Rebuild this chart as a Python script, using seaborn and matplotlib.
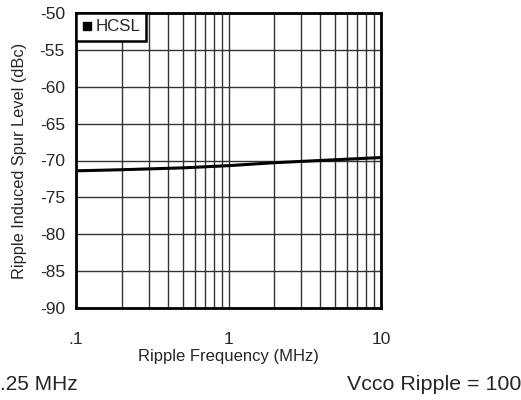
import matplotlib
matplotlib.use("Agg")
import matplotlib.pyplot as plt
import seaborn as sns
import pandas as pd
from matplotlib.ticker import FixedLocator, FixedFormatter, LogLocator, NullFormatter
from matplotlib.lines import Line2D

freq_mhz = [0.1, 0.2, 0.5, 1, 2, 5, 10]
spur_dbc = [-71.4, -71.25, -71.0, -70.7, -70.3, -69.9, -69.6]
series_name = "HCSL"
x_ticks = [0.1, 1, 10]
x_tick_labels = [".1", "1", "10"]
y_ticks = [-90, -85, -80, -75, -70, -65, -60, -55, -50]

sns.set_theme(style="white")
plt.rcParams['font.family'] = ['Liberation Sans', 'DejaVu Sans']

df = pd.DataFrame({"f": freq_mhz, "s": spur_dbc, "series": series_name})

fig = plt.figure(figsize=(5.21, 4.0), dpi=100)
ax = fig.add_axes([76/521, 1-308/400, (381-76)/521, (308-13)/400])

sns.lineplot(data=df, x="f", y="s", hue="series", palette=["black"], linewidth=2.2, ax=ax, legend=False, zorder=5)

ax.set_xscale("log")
ax.set_xlim(0.1, 10)
ax.set_ylim(-90, -50)
ax.xaxis.set_major_locator(FixedLocator(x_ticks))
ax.xaxis.set_major_formatter(FixedFormatter(x_tick_labels))
ax.xaxis.set_minor_locator(LogLocator(base=10, subs=range(2, 10)))
ax.xaxis.set_minor_formatter(NullFormatter())
ax.set_yticks(y_ticks)
ax.set_yticklabels([str(v) for v in y_ticks])

ax.grid(True, which="both", axis="x", color="#333333", linewidth=1.0)
ax.grid(True, which="major", axis="y", color="#333333", linewidth=1.0)
ax.tick_params(axis="both", which="both", length=0)
ax.tick_params(axis="x", pad=17, labelsize=12.5)
ax.tick_params(axis="y", pad=8, labelsize=12.5)
for sp in ax.spines.values():
    sp.set_color("black")
    sp.set_linewidth(2.0)

ax.set_xlabel("Ripple Frequency (MHz)", fontsize=12, labelpad=2)
ax.set_ylabel("Ripple Induced Spur Level (dBc)", fontsize=11.8, labelpad=9)

h = [Line2D([], [], marker="s", color="black", linestyle="none", markersize=5.5)]
leg = ax.legend(h, [series_name], loc="upper left", borderaxespad=0, fancybox=False,
                frameon=True, fontsize=12.2, handlelength=0.5, handletextpad=0.25,
                borderpad=0.38, framealpha=1)
leg.get_frame().set_edgecolor("black")
leg.get_frame().set_linewidth(1.8)
leg.set_zorder(10)

fig.text(0.0, 1-385/400, ".25 MHz", fontsize=15, ha="left", va="center")
fig.text(1.0, 1-385/400, "Vcco Ripple = 100", fontsize=15.4, ha="right", va="center")

fig.savefig("out.png", dpi=100)
